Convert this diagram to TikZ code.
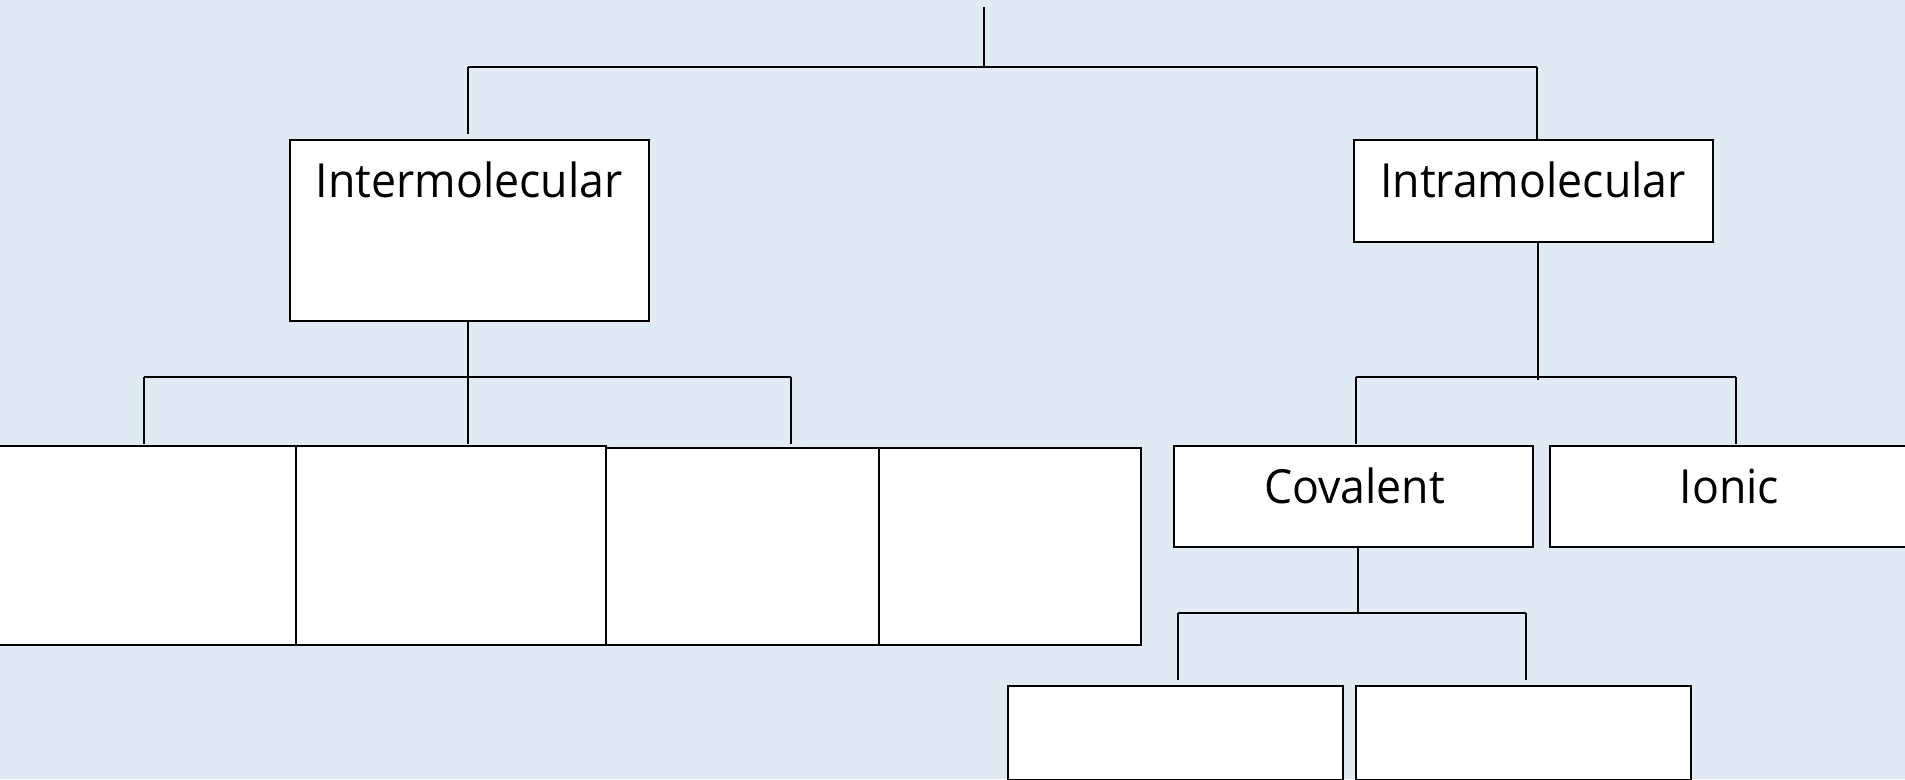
\documentclass[tikz,border=0pt]{standalone}
\usepackage{fontspec}
\setmainfont{Open Sans}[FakeStretch=0.95]
\definecolor{bg}{RGB}{224,234,245}
\begin{document}
\begin{tikzpicture}[x=1pt,y=-1pt,
  box/.style={draw=black, fill=white, line width=2pt, rectangle, inner sep=0pt},
  conn/.style={draw=black, line width=2pt},
  lbl/.style={font=\fontsize{47}{56}\selectfont, anchor=base, inner sep=0pt, text=black}]
\useasboundingbox (0,0) rectangle (1905,779);
\clip (0,0) rectangle (1905,779);
\fill[bg] (0,0) rectangle (1905,779);

% boxes
\node[box, minimum width=359.5pt, minimum height=180.5pt] (inter) at (469.25,230.25) {};
\node[box, minimum width=359pt, minimum height=101.7pt] (intra) at (1533,190.85) {};
\node[box, minimum width=346.3pt, minimum height=199pt] (ba) at (123.15,545.2) {};
\node[box, minimum width=309.7pt, minimum height=199pt] (bb) at (451.15,545.2) {};
\node[box, minimum width=273.3pt, minimum height=196.4pt] (bc) at (742.65,546.5) {};
\node[box, minimum width=261.7pt, minimum height=196.7pt] (bd) at (1010.15,546.35) {};
\node[box, minimum width=359.3pt, minimum height=101.3pt] (cov) at (1353.65,496.35) {};
\node[box, minimum width=359.5pt, minimum height=101.3pt] (ion) at (1729.25,496.35) {};
\node[box, minimum width=334.2pt, minimum height=93.5pt] (ca) at (1175.4,732.75) {};
\node[box, minimum width=335pt, minimum height=93.5pt] (cb) at (1523.5,732.75) {};

% labels
\node[lbl] (tinter) at (469.25,197) {Intermolecular};
\node[lbl] (tintra) at (1533,197) {Intramolecular};
\node[lbl] (tcov) at (1354.5,503) {Covalent};
\node[lbl] (tion) at (1729.5,503) {Ionic};

% top level connectors
\coordinate (root) at (983.7,7);
\coordinate (j0) at (983.7,67);
\coordinate (j0L) at (468,67);
\coordinate (j0R) at (1537,67);
\coordinate (e0L) at (468,134);
\draw[conn] (root) -- (j0);
\draw[conn] (j0L) -- (j0R);
\draw[conn] (j0L) -- (e0L);
\draw[conn] (j0R) -- (j0R |- intra.north);

% intermolecular children
\coordinate (j1) at (468,376.7);
\coordinate (j1L) at (144.3,376.7);
\coordinate (j1R) at (791,376.7);
\draw[conn] (j1 |- inter.south) -- (j1);
\draw[conn] (j1L) -- (j1R);
\draw[conn] (j1L) -- (144.3,444);
\draw[conn] (j1) -- (468,444);
\draw[conn] (j1R) -- (791,444);

% intramolecular children
\coordinate (j2) at (1537.6,380);
\coordinate (j2L) at (1355.6,376.7);
\coordinate (j2R) at (1736,376.7);
\draw[conn] (j2 |- intra.south) -- (j2);
\draw[conn] (j2L) -- (j2R);
\draw[conn] (j2L) -- (1355.6,444);
\draw[conn] (j2R) -- (1736,444);

% covalent children
\coordinate (j3) at (1357.5,612.7);
\coordinate (j3L) at (1177.5,612.7);
\coordinate (j3R) at (1526,612.7);
\draw[conn] (j3 |- cov.south) -- (j3);
\draw[conn] (j3L) -- (j3R);
\draw[conn] (j3L) -- (1177.5,680);
\draw[conn] (j3R) -- (1526,680);
\end{tikzpicture}
\end{document}
